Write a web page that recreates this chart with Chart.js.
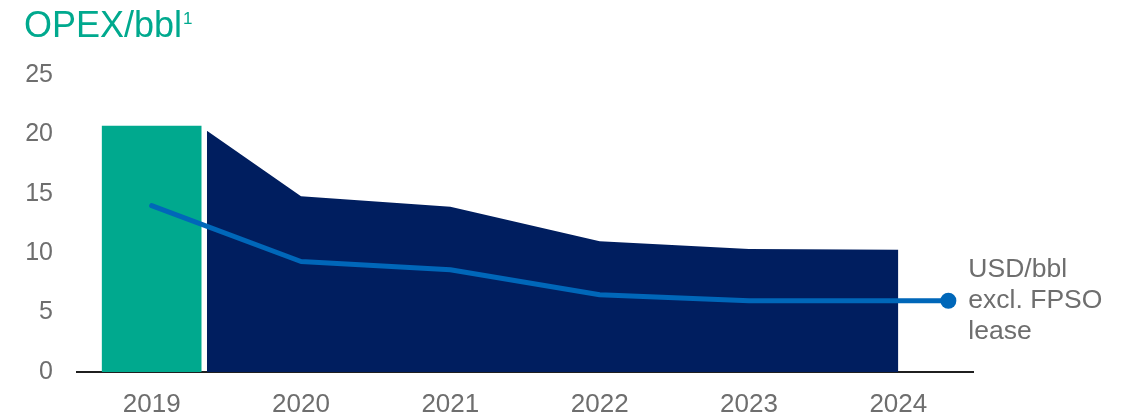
<!DOCTYPE html>
<html>
<head>
<meta charset="utf-8">
<script src="https://cdn.jsdelivr.net/npm/chart.js@4"></script>
<style>
  html, body { margin: 0; padding: 0; background: #ffffff; }
  #wrap { position: relative; width: 1132px; height: 417px; }
</style>
</head>
<body>
<div id="wrap"><canvas id="c" width="1132" height="417"></canvas></div>
<script>
// ---- data ----
const years = ['2019', '2020', '2021', '2022', '2023', '2024'];
const titleText = 'OPEX/bbl';
const titleNote = '1';
const barValue2019 = 20.7;                       // 2019 bar
const areaX = [0.37, 1, 2, 3, 4, 5];             // area starts just after the 2019 bar
const areaValues = [20.3, 14.8, 13.9, 11.0, 10.35, 10.3];
const lineX = [0, 1, 2, 3, 4, 5, 5.335];         // last point = label marker
const lineValues = [14.0, 9.3, 8.6, 6.5, 6.0, 6.0, 6.0];
const lineLabel = ['USD/bbl', 'excl. FPSO', 'lease'];
const yTicks = [0, 5, 10, 15, 20, 25];

const TEAL = '#00a98e';
const NAVY = '#001e5f';
const BLUE = '#0067b9';
const GREY = '#6e6e6e';
const FONT = '"Liberation Sans", Arial, sans-serif';

const extras = {
  id: 'extras',
  afterDraw(chart) {
    const ctx = chart.ctx;
    ctx.save();
    // title
    ctx.fillStyle = TEAL;
    ctx.textBaseline = 'alphabetic';
    ctx.textAlign = 'left';
    ctx.font = '36px ' + FONT;
    ctx.fillText(titleText, 24, 37);
    const w = ctx.measureText(titleText).width;
    ctx.font = '17px ' + FONT;
    ctx.fillText(titleNote, 24 + w + 1, 24);
    // line label next to the last point
    const meta = chart.getDatasetMeta(2);
    const pt = meta.data[meta.data.length - 1];
    ctx.fillStyle = GREY;
    ctx.font = '26.5px ' + FONT;
    ctx.textBaseline = 'middle';
    lineLabel.forEach((t, i) => ctx.fillText(t, pt.x + 20, pt.y + (i - 1) * 31));
    ctx.restore();
  }
};

new Chart(document.getElementById('c'), {
  data: {
    datasets: [
      {
        type: 'bar',
        data: [{ x: 0, y: barValue2019 }],
        backgroundColor: TEAL,
        borderWidth: 0,
        barThickness: 99,
        order: 1
      },
      {
        type: 'line',
        data: areaX.map((x, i) => ({ x, y: areaValues[i] })),
        backgroundColor: NAVY,
        borderWidth: 0,
        borderColor: NAVY,
        fill: 'origin',
        pointRadius: 0,
        tension: 0,
        order: 2
      },
      {
        type: 'line',
        data: lineX.map((x, i) => ({ x, y: lineValues[i] })),
        borderColor: BLUE,
        backgroundColor: BLUE,
        borderWidth: 5,
        borderCapStyle: 'round',
        borderJoinStyle: 'round',
        fill: false,
        tension: 0,
        pointRadius: lineX.map((x, i) => (i === lineX.length - 1 ? 8 : 0)),
        pointBorderWidth: 0,
        order: 0
      }
    ]
  },
  options: {
    responsive: false,
    animation: false,
    layout: { padding: { left: 0, right: 159, top: 75, bottom: 0 } },
    plugins: { legend: { display: false }, tooltip: { enabled: false }, title: { display: false } },
    scales: {
      x: {
        type: 'linear',
        offset: false,
        min: -0.5,
        max: 5.5,
        grid: { display: false, drawTicks: false },
        border: { display: true, color: '#1f1f1f', width: 2 },
        afterBuildTicks: (s) => { s.ticks = years.map((y, i) => ({ value: i })); },
        afterFit: (s) => { s.height = 45; },
        ticks: {
          color: GREY,
          font: { size: 26, family: FONT },
          padding: 17,
          autoSkip: false,
          maxRotation: 0,
          callback: (v) => years[v]
        }
      },
      y: {
        min: 0,
        max: 25,
        grid: { display: false, drawTicks: false },
        border: { display: false },
        afterBuildTicks: (s) => { s.ticks = yTicks.map(v => ({ value: v })); },
        afterFit: (s) => { s.width = 77; },
        ticks: {
          color: GREY,
          font: { size: 25, family: FONT },
          padding: 24
        }
      }
    }
  },
  plugins: [extras]
});
</script>
</body>
</html>
